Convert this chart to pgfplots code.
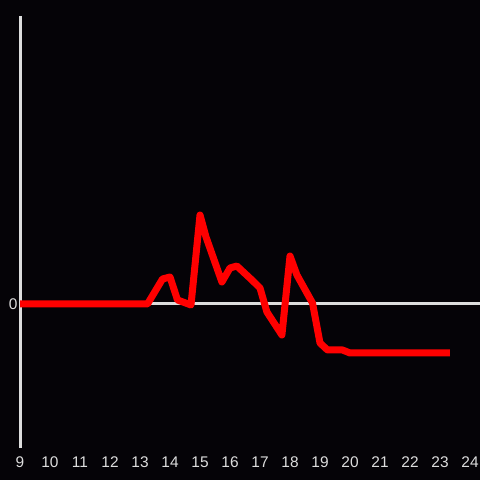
\documentclass[border=0pt]{standalone}
\usepackage{fontspec}
\setmainfont{Liberation Sans}
\usepackage{pgfplots}
\pgfplotsset{compat=1.18}
\definecolor{bg}{HTML}{050307}
\definecolor{ax}{HTML}{DDDDDD}
\begin{document}
\begin{tikzpicture}[x=1bp,y=1bp]
\fill[bg] (0,0) rectangle (480,480);
\begin{axis}[at={(20bp,32bp)}, anchor=south west, scale only axis,
  width=450bp, height=432bp,
  xmin=9, xmax=24, ymin=-14.4, ymax=28.8,
  axis lines=left, clip=false,
  x axis line style={draw=none,-},
  y axis line style={ax, line width=3bp, -},
  xtick={9,...,24}, ytick=\empty, extra y ticks={0},
  major tick length=0pt,
  tick label style={text=ax, font=\fontsize{15.5}{17}\selectfont},
  xticklabel style={yshift=-5pt},
  yticklabel style={xshift=1pt},
  /pgf/number format/assume math mode=true,
]
\draw[ax, line width=3bp] (axis cs:9,0) -- (axis cs:24.33,0);
\addplot[red, line width=7bp, line join=round, mark=none] coordinates {
(9,0) (13.25,0) (13.75,2.5) (14.0,2.7) (14.25,0.4) (14.7,-0.1)
(15.0,8.9) (15.2,6.7) (15.73,2.2) (16.0,3.6) (16.23,3.8) (16.73,2.4)
(17.0,1.6) (17.23,-0.8) (17.73,-3.1) (18.0,4.8) (18.23,2.9) (18.75,0.1)
(19.0,-3.9) (19.25,-4.6) (19.75,-4.6) (20.0,-4.9) (23.33,-4.9)
};
\end{axis}
\pgfresetboundingbox
\useasboundingbox (0,0) rectangle (480,480);
\end{tikzpicture}
\end{document}
